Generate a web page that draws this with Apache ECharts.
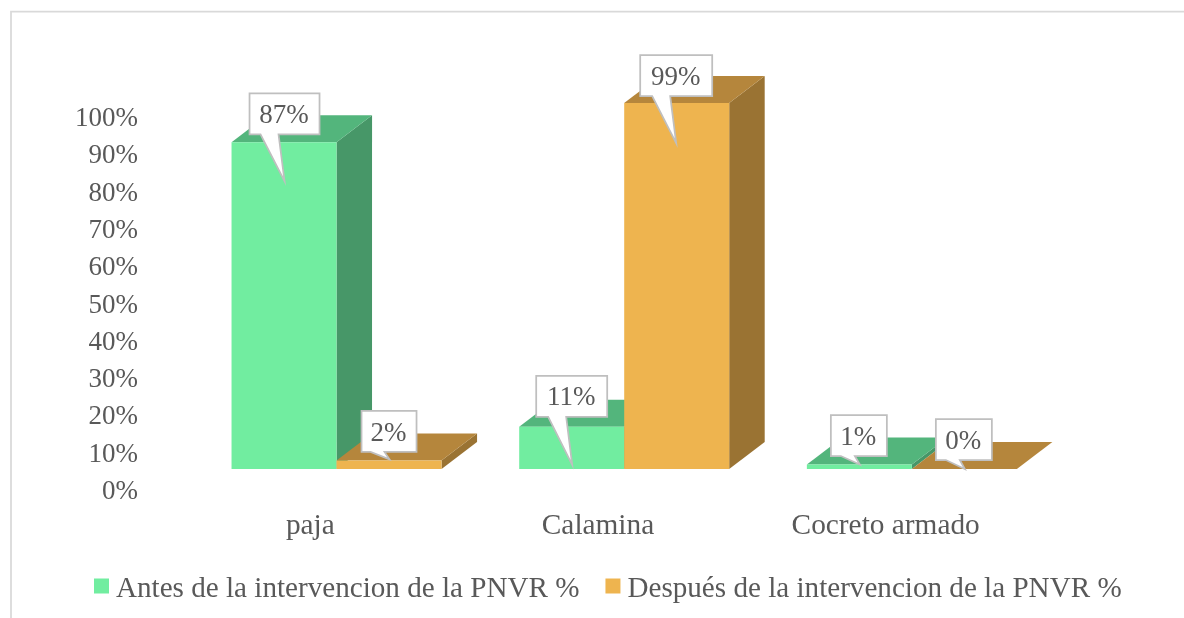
<!DOCTYPE html>
<html>
<head>
<meta charset="utf-8">
<style>
  html, body { margin: 0; padding: 0; background: #fff; }
  #chart { width: 1184px; height: 618px; }
</style>
<script src="https://cdn.jsdelivr.net/npm/echarts@6/dist/echarts.min.js"></script>
</head>
<body>
<div id="chart"></div>
<script>
const categories = ['paja', 'Calamina', 'Cocreto armado'];
const seriesNames = ['Antes de la intervencion de la PNVR %', 'Después de la intervencion de la PNVR %'];
// bar heights as read against the axis, the printed callouts are a little different
const antesValues = [87.6, 11.3, 1.2];
const despuesValues = [2.3, 98.1, 0];
const antesLabels = ['87%', '11%', '1%'];
const despuesLabels = ['2%', '99%', '0%'];
const yTicks = [0, 10, 20, 30, 40, 50, 60, 70, 80, 90, 100];

const textColor = '#595959';
const fontFamily = '"Liberation Serif", "Times New Roman", serif';
const greens = {front: '#71EDA0', top: '#53B57C', side: '#479768'};
const oranges = {front: '#EEB44F', top: '#B5863C', side: '#9A7333'};

// look of the 3d boxes
const barWidth = 105;
const depthX = 35.5;
const depthY = 27;
const floorLift = 23;
const bandShift = 27.7;

// callouts, offsets are from the top left corner of the bar's front face
const antesCallouts = [
  {x: 18, y: -49, w: 70, tipX: 53, tipY: 39},
  {x: 17, y: -51, w: 71, tipX: 53, tipY: 38},
  {x: 24, y: -49.5, w: 56, tipX: 53, tipY: 0}
];
const despuesCallouts = [
  {x: 25, y: -49.5, w: 55, tipX: 53, tipY: -1},
  {x: 16, y: -48, w: 72, tipX: 52, tipY: 40},
  {x: 24, y: -50, w: 56, tipX: 53, tipY: 0}
];

function faceCorners(api, catIndex, value, seriesIndex) {
  const zero = api.coord([catIndex, 0]);
  const top = api.coord([catIndex, value]);
  const left = zero[0] + bandShift - (seriesIndex === 0 ? barWidth : 0);
  return {left: left, right: left + barWidth, bottom: zero[1] - floorLift, top: top[1] - floorLift};
}

function renderBox(colors, seriesIndex) {
  return function (params, api) {
    const f = faceCorners(api, api.value(0), api.value(1), seriesIndex);
    return {
      type: 'group',
      children: [
        {
          type: 'polygon',
          shape: {points: [[f.right, f.bottom], [f.right + depthX, f.bottom - depthY], [f.right + depthX, f.top - depthY], [f.right, f.top]]},
          style: {fill: colors.side}
        },
        {
          type: 'polygon',
          shape: {points: [[f.left, f.top], [f.left + depthX, f.top - depthY], [f.right + depthX, f.top - depthY], [f.right, f.top]]},
          style: {fill: colors.top}
        },
        {
          type: 'rect',
          shape: {x: f.left, y: f.top, width: barWidth, height: f.bottom - f.top},
          style: {fill: colors.front}
        }
      ]
    };
  };
}

function renderCallout(params, api) {
  const seriesIndex = api.value(2);
  const catIndex = api.value(0);
  const f = faceCorners(api, catIndex, api.value(1), seriesIndex);
  const c = (seriesIndex === 0 ? antesCallouts : despuesCallouts)[catIndex];
  const text = (seriesIndex === 0 ? antesLabels : despuesLabels)[catIndex];
  const x0 = f.left + c.x;
  const y0 = f.top + c.y;
  const x1 = x0 + c.w;
  const y1 = y0 + 41;
  const tipX = f.left + c.tipX;
  const tipY = f.top + c.tipY;
  const wide = c.w > 60;
  return {
    type: 'group',
    children: [
      {
        type: 'polygon',
        shape: {points: [
          [x0, y0], [x1, y0], [x1, y1],
          [tipX - (wide ? 6 : 5), y1], [tipX, tipY], [tipX - (wide ? 24 : 19), y1],
          [x0, y1]
        ]},
        style: {fill: '#fff', stroke: '#BFBFBF', lineWidth: 1.75}
      },
      {
        type: 'text',
        style: {
          x: (x0 + x1) / 2 - 0.5, y: (y0 + y1) / 2 + 2,
          text: text, align: 'center', verticalAlign: 'middle',
          fill: textColor, font: '27px ' + fontFamily
        }
      }
    ]
  };
}

const calloutData = [];
categories.forEach((name, i) => {
  calloutData.push([i, antesValues[i], 0]);
  calloutData.push([i, despuesValues[i], 1]);
});

const myChart = echarts.init(document.getElementById('chart'), null, {renderer: 'canvas'});

const option = {
  animation: false,
  backgroundColor: '#fff',
  textStyle: {fontFamily: fontFamily},
  graphic: [
    {
      type: 'polyline',
      silent: true,
      shape: {points: [[11, 618], [11, 11.5], [1184, 11.5]]},
      style: {stroke: '#D9D9D9', lineWidth: 1.75, fill: null}
    }
  ],
  grid: {left: 165, right: 156, top: 119, bottom: 126, containLabel: false},
  legend: {
    data: seriesNames.map(n => ({name: n, icon: 'rect'})),
    left: 89,
    top: 570,
    itemWidth: 15,
    itemHeight: 15,
    itemGap: 26,
    formatter: '{t|{name}}',
    textStyle: {
      color: textColor,
      fontSize: 29.14,
      fontFamily: fontFamily,
      rich: {t: {color: textColor, fontSize: 29.14, fontFamily: fontFamily, padding: [7, 0, 0, 2]}}
    }
  },
  xAxis: {
    type: 'category',
    data: categories,
    axisLine: {show: false},
    axisTick: {show: false},
    axisLabel: {color: textColor, fontSize: 29.33, fontFamily: fontFamily, margin: 20, padding: [0, 0, 0, 3]}
  },
  yAxis: {
    type: 'value',
    min: yTicks[0],
    max: yTicks[yTicks.length - 1],
    interval: 10,
    splitLine: {show: false},
    axisLine: {show: false},
    axisTick: {show: false},
    axisLabel: {color: textColor, fontSize: 27, fontFamily: fontFamily, margin: 27, formatter: '{value}%'}
  },
  series: [
    {
      name: seriesNames[0],
      type: 'custom',
      itemStyle: {color: greens.front},
      renderItem: renderBox(greens, 0),
      encode: {x: 0, y: 1},
      data: antesValues.map((v, i) => [i, v]),
      z: 2
    },
    {
      name: seriesNames[1],
      type: 'custom',
      itemStyle: {color: oranges.front},
      renderItem: renderBox(oranges, 1),
      encode: {x: 0, y: 1},
      data: despuesValues.map((v, i) => [i, v]),
      z: 3
    },
    {
      name: 'callouts',
      type: 'custom',
      renderItem: renderCallout,
      encode: {x: 0, y: 1},
      data: calloutData,
      z: 5
    }
  ]
};

option && myChart.setOption(option);
</script>
</body>
</html>
